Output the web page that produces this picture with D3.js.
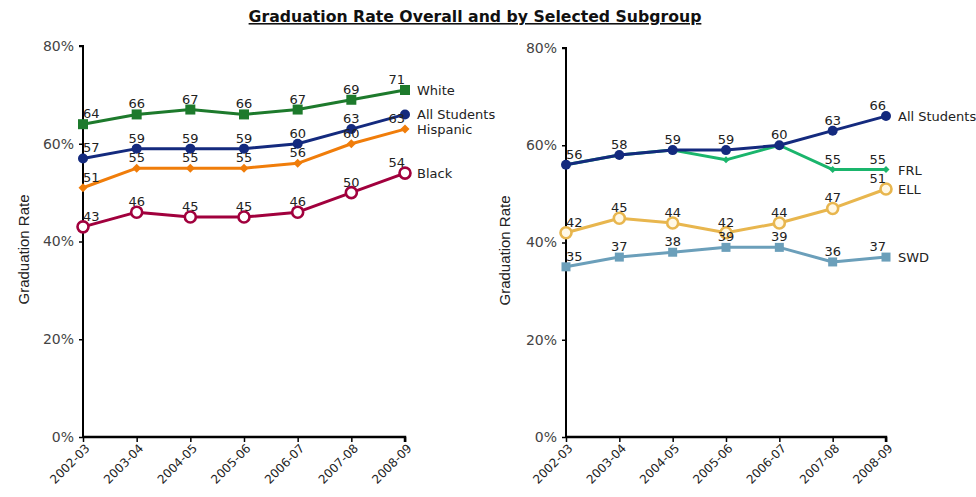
<!DOCTYPE html>
<html>
<head>
<meta charset="utf-8">
<script src="https://cdn.jsdelivr.net/npm/d3@7"></script>
<style>
  html, body { margin: 0; padding: 0; background: #fff; }
  svg { display: block; }
  text { font-family: "DejaVu Sans", Verdana, sans-serif; }
</style>
</head>
<body>
<svg id="chart" width="976" height="497"></svg>
<script>
// School years on the x axis
const years = ["2002-03", "2003-04", "2004-05", "2005-06", "2006-07", "2007-08", "2008-09"];

// Left panel: overall rate and by race/ethnicity (percent)
const whiteRate    = [64, 66, 67, 66, 67, 69, 71];
const allRateLeft  = [57, 59, 59, 59, 60, 63, 66];
const hispanicRate = [51, 55, 55, 55, 56, 60, 63];
const blackRate    = [43, 46, 45, 45, 46, 50, 54];

// Right panel: overall rate and by program subgroup (percent)
const allRateRight = [56, 58, 59, 59, 60, 63, 66];
const frlRate      = [56, 58, 59, 57, 60, 55, 55];
const ellRate      = [42, 45, 44, 42, 44, 47, 51];
const swdRate      = [35, 37, 38, 39, 39, 36, 37];

// Points whose value label is left off because it would sit on another label
const allLeftLabelShown = [true, true, true, true, true, true, false];
const frlLabelShown     = [false, false, false, false, false, true, true];

const yTicks = [0, 20, 40, 60, 80];

const svg = d3.select("#chart");

// Title
svg.append("text")
  .attr("x", 475).attr("y", 22)
  .attr("text-anchor", "middle")
  .style("font-size", "15.7px").style("font-weight", "bold")
  .style("text-decoration", "underline")
  .attr("fill", "#111")
  .text("Graduation Rate Overall and by Selected Subgroup");

const colors = {
  white: "#1d7a2c",
  all: "#142a7e",
  hispanic: "#f07d0a",
  black: "#a1003d",
  frl: "#1ab56c",
  ell: "#e8b64e",
  swd: "#6b9fba"
};

function marker(g, shape, color, x, y) {
  if (shape === "square") {
    g.append("rect").attr("x", x - 5).attr("y", y - 5).attr("width", 10).attr("height", 10).attr("fill", color);
  } else if (shape === "squareSm") {
    g.append("rect").attr("x", x - 4.5).attr("y", y - 4.5).attr("width", 9).attr("height", 9).attr("fill", color);
  } else if (shape === "circle") {
    g.append("circle").attr("cx", x).attr("cy", y).attr("r", 5).attr("fill", color);
  } else if (shape === "ring") {
    g.append("circle").attr("cx", x).attr("cy", y).attr("r", 5.5).attr("fill", "#fff")
      .attr("stroke", color).attr("stroke-width", 2.6);
  } else if (shape === "ringLight") {
    g.append("circle").attr("cx", x).attr("cy", y).attr("r", 5.5).attr("fill", "#fff8e6")
      .attr("stroke", color).attr("stroke-width", 2.6);
  } else if (shape === "diamond") {
    g.append("path").attr("d", `M${x},${y - 4.5}L${x + 4.5},${y}L${x},${y + 4.5}L${x - 4.5},${y}Z`).attr("fill", color);
  } else if (shape === "diamondSm") {
    g.append("path").attr("d", `M${x},${y - 3.5}L${x + 3.5},${y}L${x},${y + 3.5}L${x - 3.5},${y}Z`).attr("fill", color);
  }
}

function drawPanel(cfg) {
  const x = d3.scalePoint().domain(years).range([cfg.x0, cfg.x1]).padding(0);
  const y = d3.scaleLinear().domain([0, 80]).range([cfg.yBottom, cfg.yTop]);
  const g = svg.append("g");

  // Y axis title
  g.append("text")
    .attr("transform", `translate(${cfg.titleX},${(cfg.yTop + cfg.yBottom) / 2 + 8}) rotate(-90)`)
    .attr("text-anchor", "middle")
    .style("font-family", "'Liberation Sans', Arial, sans-serif")
    .style("font-size", "15px")
    .attr("fill", "#222")
    .text("Graduation Rate");

  // Y axis
  const yAxis = d3.axisLeft(y).tickValues(yTicks).tickFormat(d => d + "%").tickSize(4).tickPadding(5);
  const ya = g.append("g").attr("transform", `translate(${cfg.x0},0)`).call(yAxis);
  ya.select(".domain").attr("stroke", "#000").attr("stroke-width", 2).attr("d", `M-4,${cfg.yTop}H0V${cfg.yBottom}`);
  ya.selectAll(".tick line").attr("stroke", "#000").attr("stroke-width", 1.5);
  ya.selectAll(".tick text").style("font-size", "14px").attr("fill", "#444")
    .style("font-family", "'DejaVu Sans', Verdana, sans-serif");

  // X axis
  const xAxis = d3.axisBottom(x).tickSize(5).tickFormat(d => d);
  const xa = g.append("g").attr("transform", `translate(0,${cfg.yBottom})`).call(xAxis);
  xa.select(".domain").attr("stroke", "#000").attr("stroke-width", 2.5).attr("d", `M${cfg.x0},0H${cfg.x1}V5`);
  xa.selectAll(".tick line").attr("stroke", "#000").attr("stroke-width", 1.5);
  xa.selectAll(".tick text")
    .style("font-size", "12px").attr("fill", "#222")
    .attr("text-anchor", "end")
    .attr("y", 0).attr("dy", 0)
    .attr("transform", "translate(7,12) rotate(-45)");

  const line = d3.line().x((d, i) => x(years[i])).y(d => y(d));

  // Lines first, markers on top
  cfg.series.forEach(s => {
    g.append("path").datum(s.values).attr("d", line)
      .attr("fill", "none").attr("stroke", s.color).attr("stroke-width", 3)
      .attr("stroke-linejoin", "round");
  });
  cfg.series.forEach(s => {
    const mg = g.append("g");
    s.values.forEach((v, i) => marker(mg, s.shape, s.color, x(years[i]), y(v)));
  });

  // Value labels, kept inside the plot's horizontal extent
  cfg.series.forEach(s => {
    s.values.forEach((v, i) => {
      if (s.shown && !s.shown[i]) return;
      const px = x(years[i]), py = y(v);
      const t = g.append("text")
        .style("font-size", "13px").attr("fill", "#222")
        .attr("text-anchor", "middle")
        .text(v);
      const w = t.node().getComputedTextLength();
      const cx = Math.max(cfg.x0 + w / 2, Math.min(cfg.x1 - w / 2, px));
      t.attr("x", cx).attr("y", py - 6);
    });
  });

  // Series names at the end of each line, spaced so they don't collide
  const ends = cfg.series.map(s => ({ name: s.name, y: y(s.values[s.values.length - 1]) }))
    .sort((a, b) => a.y - b.y);
  for (let i = 1; i < ends.length; i++) {
    if (ends[i].y - ends[i - 1].y < 15) ends[i].y = ends[i - 1].y + 15;
  }
  ends.forEach(e => {
    g.append("text")
      .attr("x", cfg.x1 + 12).attr("y", e.y + 5)
      .style("font-size", "13px").attr("fill", "#222")
      .text(e.name);
  });
}

drawPanel({
  x0: 83, x1: 405, yTop: 46, yBottom: 437, titleX: 29,
  series: [
    { name: "White", values: whiteRate, color: colors.white, shape: "square" },
    { name: "All Students", values: allRateLeft, color: colors.all, shape: "circle", shown: allLeftLabelShown },
    { name: "Hispanic", values: hispanicRate, color: colors.hispanic, shape: "diamond" },
    { name: "Black", values: blackRate, color: colors.black, shape: "ring" }
  ]
});

drawPanel({
  x0: 566, x1: 886, yTop: 48, yBottom: 437, titleX: 510,
  series: [
    { name: "SWD", values: swdRate, color: colors.swd, shape: "squareSm" },
    { name: "ELL", values: ellRate, color: colors.ell, shape: "ringLight" },
    { name: "FRL", values: frlRate, color: colors.frl, shape: "diamondSm", shown: frlLabelShown },
    { name: "All Students", values: allRateRight, color: colors.all, shape: "circle" }
  ]
});
</script>
</body>
</html>
